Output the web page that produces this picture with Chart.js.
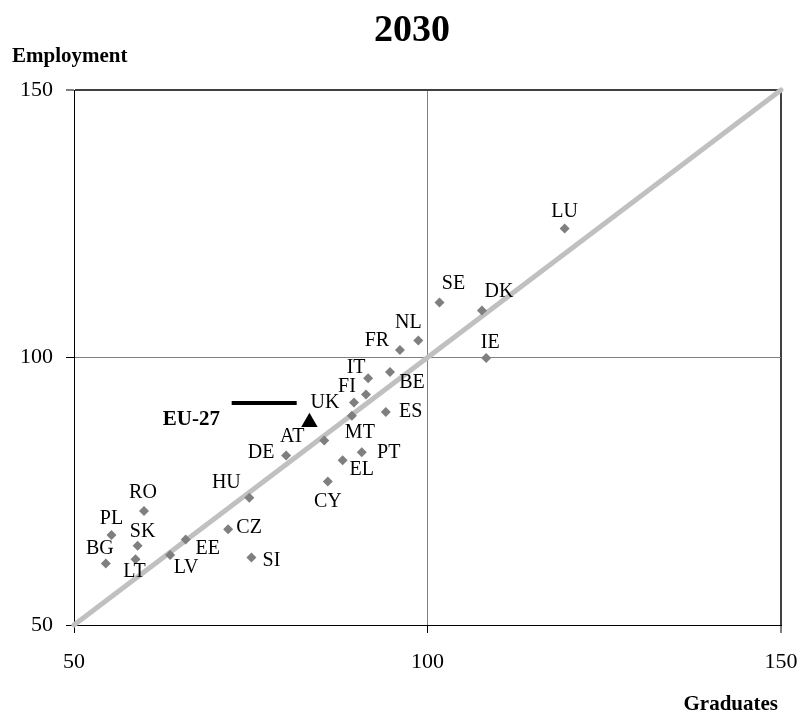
<!DOCTYPE html>
<html>
<head>
<meta charset="utf-8">
<script src="https://cdn.jsdelivr.net/npm/chart.js@4/dist/chart.umd.min.js"></script>
<style>
  html, body { margin: 0; padding: 0; background: #fff; }
  #wrap { width: 801px; height: 717px; }
</style>
</head>
<body>
<div id="wrap"><canvas id="chart" width="801" height="717"></canvas></div>
<script>
// ── data ───────────────────────────────────────────────────
const countries  = ["LU","SE","DK","NL","FR","IE","IT","BE","FI","UK","ES","MT","AT","DE","PT","EL","HU","CY","RO","PL","SK","CZ","BG","EE","LT","LV","SI"];
const graduates  = [119.4,101.7,107.7,98.7,96.1,108.3,91.6,94.7,91.3,89.6,94.1,89.3,85.4,80.0,90.7,88.0,74.8,85.9,59.9,55.3,59.0,71.8,54.5,65.8,58.7,63.6,75.1];
const employment = [124.1,110.3,108.8,103.2,101.4,99.9,96.1,97.3,93.1,91.6,89.8,89.1,84.5,81.7,82.3,80.8,73.8,76.8,71.3,66.8,64.8,67.9,61.5,66.0,62.3,63.1,62.6];
const euLabel    = "EU-27";
const euPoint    = [83.3, 87.9];
const euBar      = [[72.3, 91.5], [81.5, 91.5]];
const diagonal   = [[50, 50], [150, 150]];
const axisTicks  = [50, 100, 150];

// label placement (pixel offsets from each marker)
const labelOffsets = {
  LU:[0,-17], SE:[14,-19], DK:[17,-19], NL:[-10,-18], FR:[-23,-9], IE:[4,-15],
  IT:[-12,-11], BE:[22,11], FI:[-19,-8], UK:[-29,0], ES:[25,0], MT:[8,17],
  AT:[-32,-4], DE:[-25,-3], PT:[27,1], EL:[19,10], HU:[-23,-15], CY:[0,20],
  RO:[-1,-18], PL:[0,-16], SK:[5,-14], CZ:[21,-1], BG:[-6,-15], EE:[22,9],
  LT:[-1,13], LV:[16,13], SI:[20,3]
};

const SERIF = '"Liberation Serif", "Times New Roman", serif';

const countryPts = countries.map((c, i) => ({ x: graduates[i], y: employment[i] }));

const labelsPlugin = {
  id: "labels",
  afterDatasetsDraw(chart) {
    const { ctx, scales: { x, y } } = chart;
    ctx.save();
    ctx.fillStyle = "#000";
    ctx.textAlign = "center";
    ctx.textBaseline = "middle";
    ctx.font = "20px " + SERIF;
    countries.forEach((c, i) => {
      const o = labelOffsets[c] || [0, -16];
      ctx.fillText(c, x.getPixelForValue(graduates[i]) + o[0], y.getPixelForValue(employment[i]) + o[1]);
    });
    ctx.font = "bold 21px " + SERIF;
    ctx.fillText(euLabel, x.getPixelForValue(euPoint[0]) - 118, y.getPixelForValue(euPoint[1]) - 3);
    ctx.restore();
  },
  afterDraw(chart) {
    const { ctx } = chart;
    ctx.save();
    ctx.fillStyle = "#000";
    ctx.textBaseline = "alphabetic";
    ctx.font = "bold 38px " + SERIF;
    ctx.textAlign = "center";
    ctx.fillText("2030", 412, 41);
    ctx.font = "bold 21px " + SERIF;
    ctx.textAlign = "left";
    ctx.fillText("Employment", 12, 62);
    ctx.textAlign = "right";
    ctx.fillText("Graduates", 778, 710);
    ctx.restore();
  }
};

const gridColor = v => v === 100 ? "#808080" : v === 150 ? "#404040" : "#000";
const gridWidth = v => v === 150 ? 2 : 1;

new Chart(document.getElementById("chart"), {
  type: "scatter",
  data: {
    datasets: [
      { label: "countries", data: countryPts,
        pointStyle: "rectRot", pointRadius: 5, pointHoverRadius: 5,
        backgroundColor: "#7f7f7f", borderColor: "#7f7f7f", borderWidth: 0 },
      { label: euLabel, data: [{ x: euPoint[0], y: euPoint[1] }],
        pointStyle: "triangle", pointRadius: 9.5, backgroundColor: "#000", borderColor: "#000", borderWidth: 0 },
      { label: "bar", data: euBar.map(p => ({ x: p[0], y: p[1] })), showLine: true,
        borderColor: "#000", borderWidth: 4, pointRadius: 0 },
      { label: "diagonal", data: diagonal.map(p => ({ x: p[0], y: p[1] })), showLine: true,
        borderColor: "#c0c0c0", borderWidth: 5, borderCapStyle: "round", pointRadius: 0, clip: false },
    ],
  },
  options: {
    responsive: false,
    animation: false,
    events: [],
    layout: { padding: { top: 90, right: 20, left: 0, bottom: 0 } },
    plugins: { legend: { display: false }, tooltip: { enabled: false } },
    scales: {
      x: {
        type: "linear", min: 50, max: 150,
        afterBuildTicks: s => { s.ticks = axisTicks.map(v => ({ value: v })); },
        afterFit: s => { s.height = 92; s.paddingLeft = 0; s.paddingRight = 0; },
        ticks: { color: "#000", padding: 16, font: { family: SERIF, size: 22 } },
        grid: { color: c => gridColor(c.tick && c.tick.value), lineWidth: c => gridWidth(c.tick && c.tick.value),
                tickColor: "#000", tickLength: 8, tickWidth: 1 },
        border: { color: "#000", width: 1 },
      },
      y: {
        type: "linear", min: 50, max: 150,
        afterBuildTicks: s => { s.ticks = axisTicks.map(v => ({ value: v })); },
        afterFit: s => { s.width = 74; s.paddingTop = 0; s.paddingBottom = 0; },
        ticks: { color: "#000", padding: 13, font: { family: SERIF, size: 22 } },
        grid: { color: c => gridColor(c.tick && c.tick.value), lineWidth: c => gridWidth(c.tick && c.tick.value),
                tickColor: "#000", tickLength: 8, tickWidth: 1 },
        border: { color: "#000", width: 1 },
      },
    },
  },
  plugins: [labelsPlugin],
});
</script>
</body>
</html>
